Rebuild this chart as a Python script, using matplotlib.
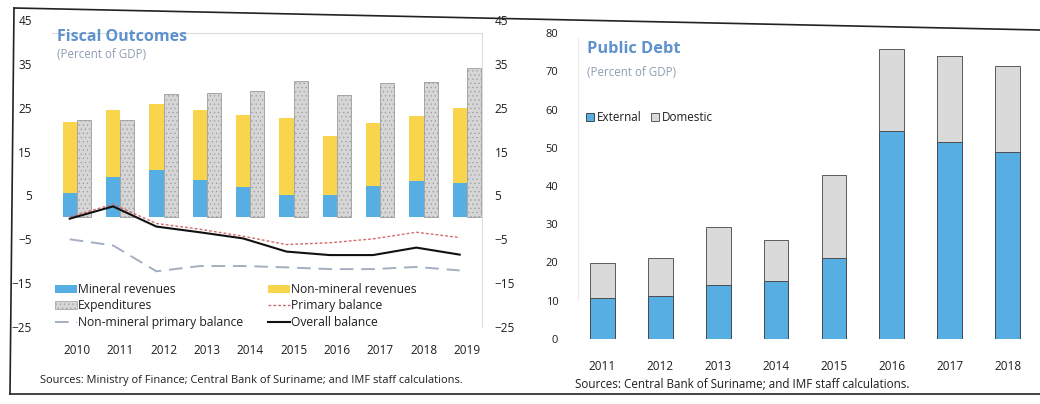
import numpy as np
import matplotlib
matplotlib.use("Agg")
import matplotlib.pyplot as plt
from matplotlib.patches import Patch
from matplotlib.lines import Line2D

plt.rcParams['font.family'] = ['Open Sans', 'DejaVu Sans']
plt.rcParams['hatch.linewidth'] = 0.4

# ---------------- data ----------------
fiscal_years = ['2010', '2011', '2012', '2013', '2014', '2015', '2016', '2017', '2018', '2019']
mineral_rev = [5.5, 9.3, 10.9, 8.6, 7.0, 5.2, 5.0, 7.2, 8.2, 7.8]
nonmineral_rev = [16.3, 15.2, 15.0, 15.9, 16.4, 17.5, 13.6, 14.3, 15.0, 17.2]
expenditures = [22.1, 22.2, 28.2, 28.3, 28.8, 31.0, 27.9, 30.7, 30.8, 34.0]
primary_balance = [0.1, 3.0, -1.4, -2.7, -4.3, -6.2, -5.8, -4.9, -3.4, -4.6]
nonmineral_primary = [-5.0, -6.4, -12.3, -11.1, -11.1, -11.4, -11.8, -11.8, -11.3, -12.1]
overall_balance = [-0.3, 2.5, -2.1, -3.4, -4.8, -7.8, -8.6, -8.6, -6.9, -8.5]
fiscal_ticks = [-25, -15, -5, 5, 15, 25, 35, 45]

debt_years = ['2011', '2012', '2013', '2014', '2015', '2016', '2017', '2018']
external_debt = [10.6, 11.2, 14.0, 15.2, 21.3, 54.5, 51.5, 48.8]
domestic_debt = [9.3, 10.1, 15.3, 10.8, 21.7, 21.2, 22.5, 22.7]
debt_ticks = [0, 10, 20, 30, 40, 50, 60, 70, 80]

# ---------------- style ----------------
BLUE = '#56aee3'
YELLOW = '#f8d54c'
EXPGRAY = '#d6d6d6'
TITLE_BLUE = '#5f92cc'
SUB_GRAY = '#8e9db3'
TXT = '#1e1e1e'

W, H = 1040, 404
fig = plt.figure(figsize=(W / 100, H / 100), dpi=100)
fig.patch.set_facecolor('white')


def fx(px):
    return px / W


def fy(py):
    return 1 - py / H


# ---------------- left panel ----------------
axL = fig.add_axes([fx(50), fy(327), fx(482) - fx(50), fy(20) - fy(327)])
x = np.arange(len(fiscal_years))
bw = 0.33
axL.bar(x - bw / 2, mineral_rev, bw, color=BLUE, linewidth=0, zorder=2)
axL.bar(x - bw / 2, nonmineral_rev, bw, bottom=mineral_rev, color=YELLOW, linewidth=0, zorder=2)
axL.bar(x + bw / 2, expenditures, bw, color=EXPGRAY, edgecolor='#9a9a9a', hatch='....',
        linewidth=0.6, zorder=2)

axL.plot(x - bw / 2, nonmineral_primary, color='#a3afc0', lw=1.4, ls=(0, (7, 4)), zorder=3)
axL.plot(x - bw / 2, primary_balance, color='#d46a6a', lw=1.0, ls=(0, (2, 1.5)), zorder=3)
axL.plot(x - bw / 2, overall_balance, color='#111111', lw=1.5, zorder=4)

axL.set_xlim(-0.62, 9.35)
axL.set_ylim(-25, 45)
axL.set_yticks(fiscal_ticks)
axL.set_xticks(x)
axL.set_xticklabels(fiscal_years)
for s in axL.spines.values():
    s.set_visible(False)
axL.tick_params(axis='both', length=0, colors=TXT)
axL.tick_params(axis='y', pad=13, labelsize=8.5)
axL.tick_params(axis='x', pad=12, labelsize=8.5)

axL2 = axL.twinx()
axL2.set_ylim(-25, 45)
axL2.set_yticks(fiscal_ticks)
for s in axL2.spines.values():
    s.set_visible(False)
axL2.tick_params(axis='y', length=0, pad=9, labelsize=8.5, colors=TXT)

handles = [
    Patch(facecolor=BLUE, edgecolor='none', label='Mineral revenues'),
    Patch(facecolor=EXPGRAY, edgecolor='#9a9a9a', hatch='....', lw=0.5, label='Expenditures'),
    Line2D([], [], color='#a3afc0', lw=1.4, ls=(0, (7, 4)), label='Non-mineral primary balance'),
    Patch(facecolor=YELLOW, edgecolor='none', label='Non-mineral revenues'),
    Line2D([], [], color='#d46a6a', lw=1.0, ls=(0, (2, 1.5)), label='Primary balance'),
    Line2D([], [], color='#111111', lw=1.5, label='Overall balance'),
]
axL.legend(handles=handles, ncol=2, loc='upper left', bbox_to_anchor=(fx(55), fy(283)),
           bbox_transform=fig.transFigure, frameon=False, fontsize=8.7, handlelength=1.8,
           handleheight=0.6, handletextpad=0.1, labelspacing=0.28, columnspacing=2.05,
           borderpad=0, borderaxespad=0, labelcolor=TXT)

fig.text(fx(57), fy(37), 'Fiscal Outcomes', fontsize=11.5, fontweight='bold',
         color=TITLE_BLUE, va='center', ha='left')
fig.text(fx(57), fy(55), '(Percent of GDP)', fontsize=8.3, color=SUB_GRAY, va='center', ha='left')
fig.text(fx(40), fy(381), 'Sources: Ministry of Finance; Central Bank of Suriname; and IMF staff calculations.',
         fontsize=7.9, color=TXT, va='center', ha='left')

# inner light frames
fig.add_artist(Line2D([fx(52), fx(482)], [fy(33), fy(33)], transform=fig.transFigure,
                      color='#dddddd', lw=0.8))
fig.add_artist(Line2D([fx(482), fx(482)], [fy(33), fy(327)], transform=fig.transFigure,
                      color='#dddddd', lw=0.8))
fig.add_artist(Line2D([fx(578), fx(578)], [fy(38), fy(300)], transform=fig.transFigure,
                      color='#ececec', lw=0.8))

# ---------------- right panel ----------------
axD = fig.add_axes([fx(575), fy(339), fx(1035) - fx(575), fy(33) - fy(339)])
xd = np.arange(len(debt_years))
dw = 0.43
axD.bar(xd, external_debt, dw, color=BLUE, edgecolor='#333333', linewidth=0.6, zorder=2)
axD.bar(xd, domestic_debt, dw, bottom=external_debt, color='#dadada', edgecolor='#444444',
        linewidth=0.6, zorder=2)
axD.set_xlim(-0.47, 7.47)
axD.set_ylim(0, 80)
axD.set_yticks(debt_ticks)
axD.set_xticks(xd)
axD.set_xticklabels(debt_years)
for s in axD.spines.values():
    s.set_visible(False)
axD.tick_params(axis='both', length=0, colors=TXT)
axD.tick_params(axis='y', pad=12, labelsize=8)
axD.tick_params(axis='x', pad=15, labelsize=8.5)

dh = [Patch(facecolor=BLUE, edgecolor='#333333', lw=0.6, label='External'),
      Patch(facecolor='#dadada', edgecolor='#444444', lw=0.6, label='Domestic')]
axD.legend(handles=dh, ncol=2, loc='upper left', bbox_to_anchor=(fx(586), fy(111)),
           bbox_transform=fig.transFigure, frameon=False, fontsize=8.4, handlelength=0.65,
           handleheight=0.65, handletextpad=0.3, columnspacing=0.8, borderpad=0,
           borderaxespad=0, labelcolor=TXT)

fig.text(fx(587), fy(49), 'Public Debt', fontsize=11.8, fontweight='bold',
         color=TITLE_BLUE, va='center', ha='left')
fig.text(fx(587), fy(72), '(Percent of GDP)', fontsize=8.3, color=SUB_GRAY, va='center', ha='left')
fig.text(fx(575), fy(384), 'Sources: Central Bank of Suriname; and IMF staff calculations.',
         fontsize=8.4, color=TXT, va='center', ha='left')

# outer frame
fig.add_artist(Line2D([fx(14), fx(1040)], [fy(8), fy(30)], transform=fig.transFigure,
                      color='#222222', lw=1.2))
fig.add_artist(Line2D([fx(14), fx(10)], [fy(8), fy(394)], transform=fig.transFigure,
                      color='#222222', lw=1.2))
fig.add_artist(Line2D([fx(10), fx(1040)], [fy(394), fy(394)], transform=fig.transFigure,
                      color='#222222', lw=1.2))

fig.savefig('out.png', dpi=100)
